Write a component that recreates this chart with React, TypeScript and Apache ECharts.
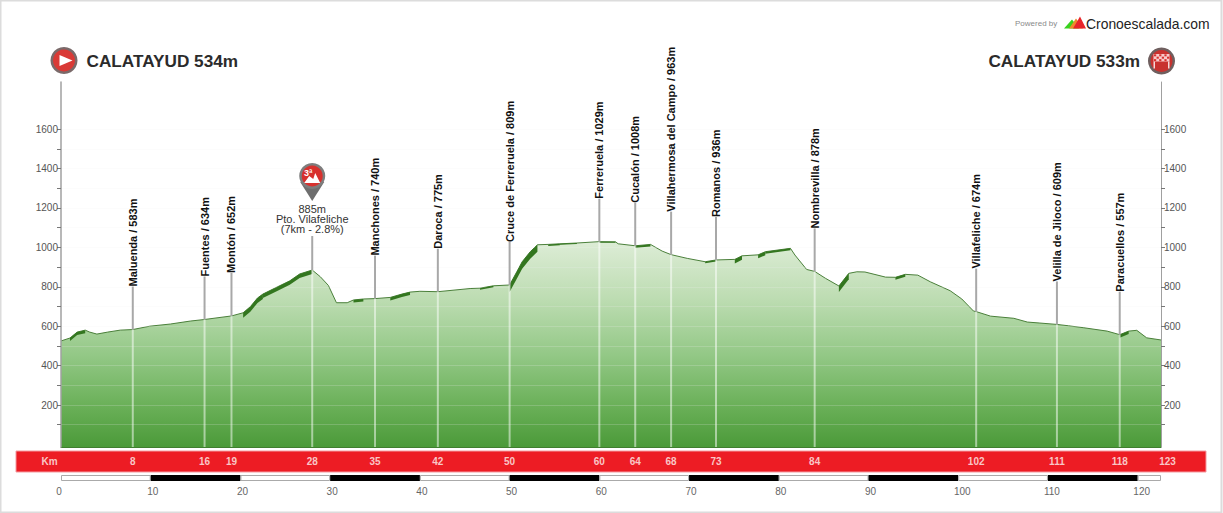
import React, { useEffect, useRef } from "react";
import * as echarts from "echarts";

const FONT = '"Liberation Sans", Arial, sans-serif';

const profileKm = [0, 1.0, 1.8, 2.7, 3.2, 4.0, 5.2, 6.6, 8, 9.9, 12.2, 14.4, 16, 19, 20.3, 21.1, 21.9, 22.5, 24.1, 25.5, 26.6, 28, 28.9, 29.8, 30.7, 31.9, 32.6, 33.7, 35, 36.7, 38, 38.9, 40, 42, 45.6, 46.7, 48.2, 50, 50.8, 51.4, 52.3, 53.1, 54.3, 55.6, 57.5, 60, 61.8, 62.1, 64, 65.7, 67, 68, 69.8, 71.8, 73, 75.1, 75.9, 77.7, 78.5, 81.3, 81.8, 83.1, 84, 85.2, 86.7, 87.8, 88.7, 89.6, 91.9, 93, 94.1, 95.5, 96.9, 99.1, 100.4, 101.7, 102, 103.6, 106.2, 107.7, 109.1, 111, 112.3, 114, 116.6, 118, 119, 119.9, 121, 122.6];
const profileElev = [525, 540, 570, 580, 570, 560, 570, 580, 583, 600, 611, 626, 634, 652, 668, 699, 743, 763, 799, 830, 865, 885, 851, 807, 719, 719, 733, 738, 740, 746, 763, 773, 777, 775, 791, 793, 805, 809, 876, 927, 978, 1013, 1015, 1018, 1022, 1029, 1028, 1018, 1008, 1015, 981, 963, 944, 927, 936, 939, 957, 962, 978, 995, 961, 888, 878, 843, 804, 868, 876, 875, 849, 848, 863, 859, 825, 780, 738, 677, 674, 651, 640, 621, 616, 609, 602, 592, 575, 557, 575, 579, 541, 530];

// steep stretches: from km, to km, band thickness
const steepFrom = [1.0, 20.3, 22.5, 32.6, 36.7, 46.7, 50, 54.3, 55.6, 60, 64, 71.8, 75.1, 77.7, 78.5, 86.7, 93, 118];
const steepTo = [2.7, 22.5, 28, 33.7, 38.9, 48.2, 53.1, 55.6, 57.5, 61.8, 65.7, 73, 75.9, 78.5, 81.3, 87.8, 94.1, 119];
const steepBand = [3, 5, 4, 2.5, 3, 1.5, 7, 1.5, 1, 1, 2, 1.5, 4, 3.5, 2, 6, 2.5, 3];

const wpKm = [8, 16, 19, 35, 42, 50, 60, 64, 68, 73, 84, 102, 111, 118];
const wpElev = [583, 634, 652, 740, 775, 809, 1029, 1008, 963, 936, 878, 674, 609, 557];
const wpLabel = ["Maluenda / 583m", "Fuentes / 634m", "Montón / 652m", "Manchones / 740m", "Daroca / 775m", "Cruce de Ferreruela / 809m", "Ferreruela / 1029m", "Cucalón / 1008m", "Villahermosa del Campo / 963m", "Romanos / 936m", "Nombrevilla / 878m", "Villafeliche / 674m", "Velilla de Jiloco / 609m", "Paracuellos / 557m"];

const climbKm = [28];
const climbElev = [885];
const climbCat = ["3ª"];
const climbText = [["885m", "Pto. Vilafeliche", "(7km - 2.8%)"]];

const kmMarks = [8, 16, 19, 28, 35, 42, 50, 60, 64, 68, 73, 84, 102, 111, 118, 123];
const scaleTicks = [0, 10, 20, 30, 40, 50, 60, 70, 80, 90, 100, 110, 120];
const scaleEnd = 122.6;
const yTickValues = [100, 200, 300, 400, 500, 600, 700, 800, 900, 1000, 1100, 1200, 1300, 1400, 1500, 1600];
const yLabelValues = [200, 400, 600, 800, 1000, 1200, 1400, 1600];

const Y_MIN = -13;
const Y_MAX = 1839;

function yAxisOpt(position: string, lineWidth: number) {
  return {
    type: "value",
    position,
    min: Y_MIN,
    max: Y_MAX,
    z: 3,
    axisLine: { show: true, lineStyle: { color: "#a0a0a0", width: lineWidth } },
    axisTick: { show: true, length: 4, customValues: yTickValues, lineStyle: { color: "#777" } },
    axisLabel: {
      show: true,
      margin: 3,
      customValues: yLabelValues,
      color: "#555",
      fontSize: 10,
      fontFamily: FONT,
      formatter: (v: number) => String(v),
    },
    splitLine: position === "left" ? { show: true, lineStyle: { color: "rgba(240,240,240,0.2)", width: 1 } } : { show: false },
  };
}

function steepPolygon(i: number, api: any) {
  const from = steepFrom[i];
  const to = steepTo[i];
  const band = steepBand[i];
  const pts: number[][] = [];
  profileKm.forEach((k, j) => {
    if (k >= from && k <= to) pts.push(api.coord([k, profileElev[j]]));
  });
  const lower = pts.map((p) => [p[0], p[1] + band]);
  return [...pts, ...lower.reverse()];
}

function mountain(): any[] {
  return [
    { type: "polygon", shape: { points: [[-12, 5], [12, 5], [0, 24]] }, style: { fill: "#6e6e6e" } },
    { type: "circle", shape: { cx: 0, cy: -1, r: 13 }, style: { fill: "#7d7d7d" } },
    { type: "circle", shape: { cx: 0, cy: -1, r: 10.5 }, style: { fill: "#d7312e" } },
    { type: "polygon", shape: { points: [[-8, 6], [-3, -1], [1, 2], [3, -4], [8, 6]] }, style: { fill: "#ffffff" } },
  ];
}

function iconGraphics(): any[] {
  const els: any[] = [
    { type: "rect", shape: { x: 0.5, y: 0.5, width: 1221, height: 512 }, style: { fill: "#fff", stroke: "#dcdcdc", lineWidth: 2 }, z: -5 },
    { type: "rect", shape: { x: 16, y: 451, width: 1190, height: 21 }, style: { fill: "#ed1c24", stroke: "#f49aa0", lineWidth: 1 }, z: 1 },
    { type: "text", x: 1015, y: 23.5, style: { text: "Powered by", font: `8px ${FONT}`, fill: "#8a8a8a", verticalAlign: "middle" } },
    { type: "polygon", shape: { points: [[1064, 28.5], [1072, 19.5], [1079, 28.5]] }, style: { fill: "#38d21e" } },
    { type: "polygon", shape: { points: [[1069, 28.5], [1076, 18.5], [1083, 28.5]] }, style: { fill: "#ee8a2c" } },
    { type: "polygon", shape: { points: [[1073, 28.5], [1080, 16.5], [1086, 28.5]] }, style: { fill: "#e8242a" } },
    { type: "text", x: 1086, y: 23.5, style: { text: "Cronoescalada.com", font: `13.9px ${FONT}`, fill: "#222", verticalAlign: "middle" } },
    { type: "text", x: 86.5, y: 60.5, style: { text: "CALATAYUD 534m", font: `bold 17.2px ${FONT}`, fill: "#2b2b2b", verticalAlign: "middle" } },
    { type: "text", x: 1140, y: 60.5, style: { text: "CALATAYUD 533m", font: `bold 17.2px ${FONT}`, fill: "#2b2b2b", align: "right", verticalAlign: "middle" } },
    { type: "circle", shape: { cx: 64, cy: 60.5, r: 13.5 }, style: { fill: "#7a6a6a" } },
    { type: "circle", shape: { cx: 64, cy: 60.5, r: 11 }, style: { fill: "#d93a36" } },
    { type: "polygon", shape: { points: [[59.5, 55], [59.5, 66], [72.5, 60.5]] }, style: { fill: "#ffffff" } },
    { type: "circle", shape: { cx: 1161.5, cy: 61, r: 13.5 }, style: { fill: "#6f5f5f" } },
    { type: "circle", shape: { cx: 1161.5, cy: 61, r: 11 }, style: { fill: "#c8322f" } },
    { type: "rect", shape: { x: 1153.5, y: 54, width: 16, height: 7.5 }, style: { fill: "#f7c9c9" } },
    { type: "rect", shape: { x: 1153.5, y: 61.5, width: 1.5, height: 7 }, style: { fill: "#f4dada" } },
    { type: "rect", shape: { x: 1168, y: 61.5, width: 1.5, height: 7 }, style: { fill: "#f4dada" } },
  ];
  for (let r = 0; r < 3; r++) {
    for (let c = 0; c < 6; c++) {
      if ((r + c) % 2 === 0) {
        els.push({ type: "rect", shape: { x: 1154 + c * 2.6, y: 54.3 + r * 2.4, width: 2.2, height: 2 }, style: { fill: "#d7312e" } });
      }
    }
  }
  return els;
}

export default function App() {
  const ref = useRef<HTMLDivElement>(null);
  useEffect(() => {
    const chart = echarts.init(ref.current!, undefined, { renderer: "svg" });
    const option: any = {
      animation: false,
      backgroundColor: "#fff",
      graphic: { elements: iconGraphics() },
      grid: { left: 61, top: 82, width: 1100, height: 365, containLabel: false },
      xAxis: {
        type: "value",
        min: 0,
        max: scaleEnd,
        axisLine: { show: true, onZero: false, lineStyle: { color: "#3f7f2f", width: 1 } },
        axisTick: { show: false },
        axisLabel: { show: false },
        splitLine: { show: false },
      },
      yAxis: [yAxisOpt("left", 1.5), yAxisOpt("right", 1)],
      series: [
        {
          type: "line",
          z: 2,
          data: profileKm.map((k, i) => [k, profileElev[i]]),
          symbol: "none",
          showSymbol: false,
          lineStyle: { color: "#4a7f3a", width: 1 },
          areaStyle: {
            origin: "start",
            opacity: 1,
            color: new echarts.graphic.LinearGradient(0, 243, 0, 447, [
              { offset: 0, color: "#dcecd5" },
              { offset: 0.28, color: "#bcdcb1" },
              { offset: 0.55, color: "#93c886" },
              { offset: 0.8, color: "#6ab058" },
              { offset: 1, color: "#4b9a39" },
            ], true),
          },
        },
        {
          type: "custom",
          z: 4,
          silent: true,
          data: steepFrom.map((k, i) => [k, steepTo[i]]),
          renderItem: (params: any, api: any) => ({
            type: "polygon",
            shape: { points: steepPolygon(params.dataIndex, api) },
            style: { fill: "#33761f" },
          }),
        },
        {
          type: "custom",
          z: 5,
          silent: true,
          data: wpKm.map((k, i) => [k, wpElev[i]]),
          renderItem: (params: any, api: any) => {
            const i = params.dataIndex;
            const p = api.coord([wpKm[i], wpElev[i]]);
            const base = api.coord([wpKm[i], Y_MIN]);
            const top = p[1] - 43;
            return {
              type: "group",
              children: [
                { type: "line", shape: { x1: p[0], y1: p[1], x2: p[0], y2: base[1] }, style: { stroke: "rgba(255,255,255,0.5)", lineWidth: 2 } },
                { type: "line", shape: { x1: p[0], y1: p[1], x2: p[0], y2: top }, style: { stroke: "#a8a8a8", lineWidth: 2 } },
                {
                  type: "text",
                  x: p[0],
                  y: top,
                  rotation: Math.PI / 2,
                  style: { text: wpLabel[i], font: `bold 11px ${FONT}`, fill: "#111", align: "left", verticalAlign: "middle" },
                },
              ],
            };
          },
        },
        {
          type: "custom",
          z: 5,
          silent: true,
          data: climbKm.map((k, i) => [k, climbElev[i]]),
          renderItem: (params: any, api: any) => {
            const i = params.dataIndex;
            const p = api.coord([climbKm[i], climbElev[i]]);
            const base = api.coord([climbKm[i], Y_MIN]);
            const lines = climbText[i];
            return {
              type: "group",
              children: [
                { type: "line", shape: { x1: p[0], y1: p[1], x2: p[0], y2: base[1] }, style: { stroke: "rgba(255,255,255,0.5)", lineWidth: 2 } },
                { type: "line", shape: { x1: p[0], y1: p[1], x2: p[0], y2: p[1] - 34 }, style: { stroke: "#a8a8a8", lineWidth: 2 } },
                ...lines.map((t: string, j: number) => ({
                  type: "text",
                  x: p[0],
                  y: p[1] - 61 + j * 10,
                  style: { text: t, font: `11px ${FONT}`, fill: "#333", align: "center", verticalAlign: "middle" },
                })),
                { type: "group", x: p[0], y: p[1] - 93, children: mountain() },
                {
                  type: "text",
                  x: p[0] - 4,
                  y: p[1] - 97,
                  style: { text: climbCat[i], font: `bold 9px ${FONT}`, fill: "#fff", align: "center", verticalAlign: "middle" },
                },
              ],
            };
          },
        },
        {
          type: "custom",
          z: 6,
          silent: true,
          data: kmMarks.map((k) => [k, 0]),
          renderItem: (params: any, api: any) => {
            const k = kmMarks[params.dataIndex];
            const x = api.coord([k, 0])[0] + (k === 123 ? 3 : 0);
            return {
              type: "text",
              x,
              y: 461.5,
              style: { text: String(k), font: `bold 10px ${FONT}`, fill: "#f9c6c6", align: "center", verticalAlign: "middle" },
            };
          },
        },
        {
          type: "custom",
          z: 6,
          silent: true,
          data: scaleTicks.map((k) => [k, 0]),
          renderItem: (params: any, api: any) => {
            const i = params.dataIndex;
            const k = scaleTicks[i];
            const x0 = api.coord([k, 0])[0];
            const x1 = api.coord([Math.min(k + 10, scaleEnd), 0])[0];
            const black = i % 2 === 1;
            const dx = k === 0 ? -2 : k >= 100 ? 4 : 2;
            return {
              type: "group",
              children: [
                {
                  type: "rect",
                  shape: black ? { x: x0, y: 475, width: x1 - x0, height: 6 } : { x: x0 + 0.5, y: 475.5, width: x1 - x0 - 1, height: 5 },
                  style: black ? { fill: "#000" } : { fill: "#fff", stroke: "#aaa", lineWidth: 1 },
                },
                {
                  type: "text",
                  x: x0 + dx,
                  y: 491,
                  style: { text: String(k), font: `10px ${FONT}`, fill: "#666", align: "center", verticalAlign: "middle" },
                },
              ],
            };
          },
        },
      ],
    };
    option.graphic.elements.push({ type: "text", x: 49.5, y: 461.5, style: { text: "Km", font: `bold 10px ${FONT}`, fill: "#f9c6c6", align: "center", verticalAlign: "middle" }, z: 2 });
    chart.setOption(option);
    return () => chart.dispose();
  }, []);
  return <div ref={ref} style={{ position: "absolute", left: 0, top: 0, width: 1223, height: 513 }} />;
}
